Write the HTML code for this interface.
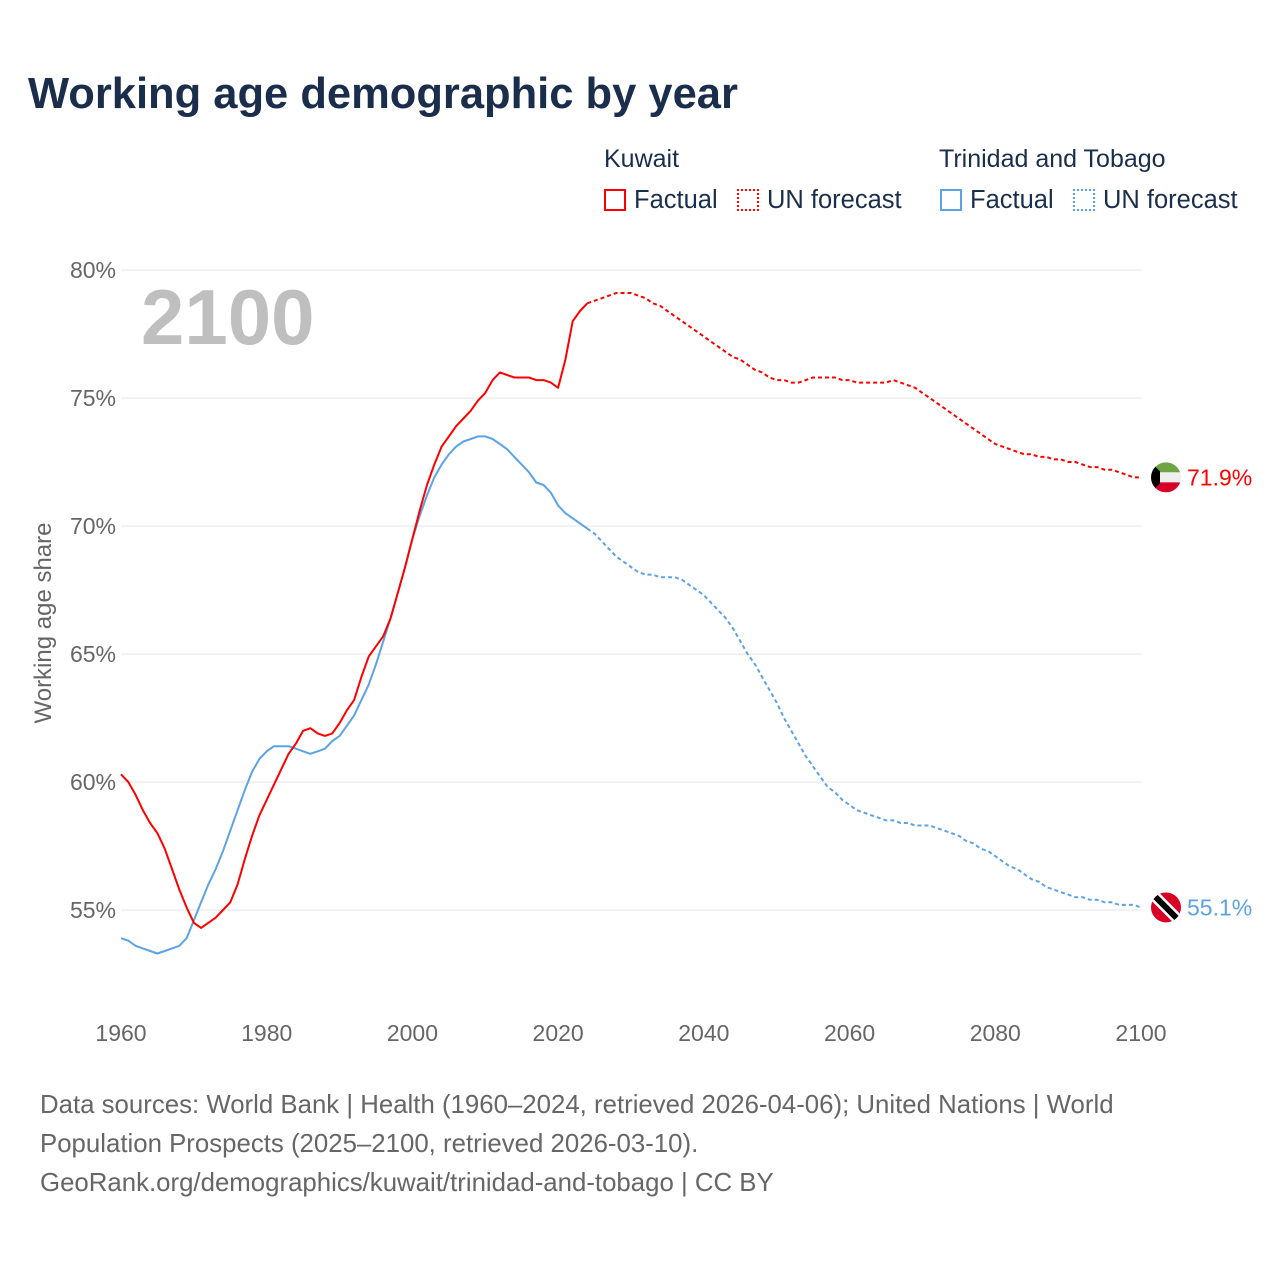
<!DOCTYPE html>
<html><head><meta charset="utf-8"><style>
body{margin:0;background:#fff;font-family:"Liberation Sans",sans-serif;}
#wrap{position:relative;width:1280px;height:1280px;overflow:hidden;}
.t{position:absolute;white-space:nowrap;}
</style></head><body>
<div id="wrap">
<div class="t" style="left:28px;top:70px;font-size:43.5px;font-weight:bold;color:#1a2e4c;">Working age demographic by year</div>
<div class="t" style="left:604px;top:145px;font-size:25px;color:#1a2e4c;">Kuwait</div>
<div class="t" style="left:939px;top:145px;font-size:25px;color:#1a2e4c;">Trinidad and Tobago</div>
<div class="t" style="left:604px;top:186px;font-size:25.5px;color:#1a2e4c;"><span style="display:inline-block;width:22px;height:22px;border:2px solid #f00;box-sizing:border-box;vertical-align:-3px;margin-right:8px"></span>Factual</div>
<div class="t" style="left:737px;top:186px;font-size:25.5px;color:#1a2e4c;"><span style="display:inline-block;width:22px;height:22px;border:2px dotted #f00;box-sizing:border-box;vertical-align:-3px;margin-right:8px"></span>UN forecast</div>
<div class="t" style="left:940px;top:186px;font-size:25.5px;color:#1a2e4c;"><span style="display:inline-block;width:22px;height:22px;border:2px solid #5ba3e6;box-sizing:border-box;vertical-align:-3px;margin-right:8px"></span>Factual</div>
<div class="t" style="left:1073px;top:186px;font-size:25.5px;color:#1a2e4c;"><span style="display:inline-block;width:22px;height:22px;border:2px dotted #5ba3e6;box-sizing:border-box;vertical-align:-3px;margin-right:8px"></span>UN forecast</div>
<svg id="chart" width="1280" height="1280" style="position:absolute;left:0;top:0"></svg>
<div class="t" style="left:40px;top:1086px;font-size:25.8px;line-height:39px;color:#666;">Data sources: World Bank | Health (1960–2024, retrieved 2026-04-06); United Nations | World<br>Population Prospects (2025–2100, retrieved 2026-03-10).<br>GeoRank.org/demographics/kuwait/trinidad-and-tobago | CC BY</div>
</div>
<script>
const yTicks=[55,60,65,70,75,80];
const xTicks=[1960,1980,2000,2020,2040,2060,2080,2100];
const kwFactual=[60.3,60.0,59.5,58.9,58.4,58.0,57.4,56.6,55.8,55.1,54.5,54.3,54.5,54.7,55.0,55.3,56.0,57.0,57.9,58.7,59.3,59.9,60.5,61.1,61.5,62.0,62.1,61.9,61.8,61.9,62.3,62.8,63.2,64.1,64.9,65.3,65.7,66.4,67.4,68.4,69.5,70.6,71.6,72.4,73.1,73.5,73.9,74.2,74.5,74.9,75.2,75.7,76.0,75.9,75.8,75.8,75.8,75.7,75.7,75.6,75.4,76.5,78.0,78.4,78.7];
const kwForecast=[78.8,78.9,79.0,79.1,79.1,79.1,79.0,78.9,78.7,78.6,78.4,78.2,78.0,77.8,77.6,77.4,77.2,77.0,76.8,76.6,76.5,76.3,76.1,76.0,75.8,75.7,75.7,75.6,75.6,75.7,75.8,75.8,75.8,75.8,75.7,75.7,75.6,75.6,75.6,75.6,75.6,75.7,75.6,75.5,75.4,75.2,75.0,74.8,74.6,74.4,74.2,74.0,73.8,73.6,73.4,73.2,73.1,73.0,72.9,72.8,72.8,72.7,72.7,72.6,72.6,72.5,72.5,72.4,72.3,72.3,72.2,72.2,72.1,72.0,71.9,71.9];
const ttFactual=[53.9,53.8,53.6,53.5,53.4,53.3,53.4,53.5,53.6,53.9,54.6,55.3,56.0,56.6,57.3,58.1,58.9,59.7,60.4,60.9,61.2,61.4,61.4,61.4,61.3,61.2,61.1,61.2,61.3,61.6,61.8,62.2,62.6,63.2,63.8,64.6,65.5,66.4,67.4,68.4,69.5,70.4,71.2,71.9,72.4,72.8,73.1,73.3,73.4,73.5,73.5,73.4,73.2,73.0,72.7,72.4,72.1,71.7,71.6,71.3,70.8,70.5,70.3,70.1,69.9];
const ttForecast=[69.7,69.4,69.1,68.8,68.6,68.4,68.2,68.1,68.1,68.0,68.0,68.0,67.9,67.7,67.5,67.3,67.0,66.7,66.4,66.0,65.5,65.0,64.6,64.1,63.6,63.1,62.5,62.0,61.5,61.0,60.6,60.2,59.8,59.6,59.3,59.1,58.9,58.8,58.7,58.6,58.5,58.5,58.4,58.4,58.3,58.3,58.3,58.2,58.1,58.0,57.9,57.7,57.6,57.4,57.3,57.1,56.9,56.7,56.6,56.4,56.2,56.1,55.9,55.8,55.7,55.6,55.5,55.5,55.4,55.4,55.3,55.3,55.2,55.2,55.2,55.1];
const NS='http://www.w3.org/2000/svg';
const svg=document.getElementById('chart');
const X=y=>121+(y-1960)*(1020/140);
const Y=v=>910-(v-55)*25.6;
function mk(t,a){const e=document.createElementNS(NS,t);for(const k in a)e.setAttribute(k,a[k]);svg.appendChild(e);return e;}
yTicks.forEach(v=>{
 const l=mk('line',{x1:121,x2:1141,y1:Y(v),y2:Y(v),stroke:'#e6e6e6','stroke-width':1});
 
 
 const t=mk('text',{x:116,y:Y(v)+8,'text-anchor':'end','font-size':23,fill:'#666','font-family':'Liberation Sans, sans-serif'});
 t.textContent=v+'%';
 
 
});
xTicks.forEach(v=>{
 const t=mk('text',{x:X(v),y:1041,'text-anchor':'middle','font-size':23,fill:'#666','font-family':'Liberation Sans, sans-serif'});
 t.textContent=v;
 
 
});
const yt=mk('text',{x:0,y:0,transform:'translate(51,623) rotate(-90)','text-anchor':'middle','font-size':24,fill:'#666','font-family':'Liberation Sans, sans-serif'});
yt.textContent='Working age share';


const yr=mk('text',{x:141,y:344,'font-size':78,'font-weight':'bold',fill:'#bfbfbf','font-family':'Liberation Sans, sans-serif'});
yr.textContent='2100';


function line(arr,start,color,dash,name){
 const pts=arr.map((v,i)=>X(start+i).toFixed(1)+','+Y(v).toFixed(1)).join(' ');
 const p=mk('polyline',{points:pts,fill:'none',stroke:color,'stroke-width':2,'stroke-dasharray':dash||'none','stroke-linejoin':'round'});
 
 
}
line(ttFactual,1960,'#5ba3e6','','tt-factual-line');
line([ttFactual[ttFactual.length-1]].concat(ttForecast),2024,'#5ba3e6','4,3','tt-forecast-line');
line(kwFactual,1960,'#f00','','kuwait-factual-line');
line([kwFactual[kwFactual.length-1]].concat(kwForecast),2024,'#f00','4,3','kuwait-forecast-line');
const kx=1166,ky=Y(kwForecast[kwForecast.length-1]);
const tx=1166,ty=Y(ttForecast[ttForecast.length-1]);
const defs=mk('defs',{});
defs.innerHTML='<clipPath id="ck"><circle cx="'+kx+'" cy="'+ky+'" r="15"/></clipPath><clipPath id="ct"><circle cx="'+tx+'" cy="'+ty+'" r="15"/></clipPath>';
const gk=mk('g',{'clip-path':'url(#ck)'});


gk.innerHTML='<rect x="'+(kx-15)+'" y="'+(ky-15)+'" width="30" height="10" fill="#6da544"/><rect x="'+(kx-15)+'" y="'+(ky-5)+'" width="30" height="10" fill="#eee"/><rect x="'+(kx-15)+'" y="'+(ky+5)+'" width="30" height="10" fill="#d80027"/><polygon points="'+(kx-15)+','+(ky-15)+' '+(kx-6)+','+(ky-6)+' '+(kx-6)+','+(ky+6)+' '+(kx-15)+','+(ky+15)+'" fill="#000"/>';
const gt=mk('g',{'clip-path':'url(#ct)'});


gt.innerHTML='<rect x="'+(tx-15)+'" y="'+(ty-15)+'" width="30" height="30" fill="#d80027"/><line x1="'+(tx-15)+'" y1="'+(ty-15)+'" x2="'+(tx+15)+'" y2="'+(ty+15)+'" stroke="#fff" stroke-width="11"/><line x1="'+(tx-15)+'" y1="'+(ty-15)+'" x2="'+(tx+15)+'" y2="'+(ty+15)+'" stroke="#000" stroke-width="6"/>';
const kl=mk('text',{x:1187,y:ky+8,'font-size':23,fill:'#f00','font-family':'Liberation Sans, sans-serif'});
kl.textContent=kwForecast[kwForecast.length-1].toFixed(1)+'%';


const tl=mk('text',{x:1187,y:ty+8,'font-size':23,fill:'#5ba3e6','font-family':'Liberation Sans, sans-serif'});
tl.textContent=ttForecast[ttForecast.length-1].toFixed(1)+'%';


</script>
</body></html>
